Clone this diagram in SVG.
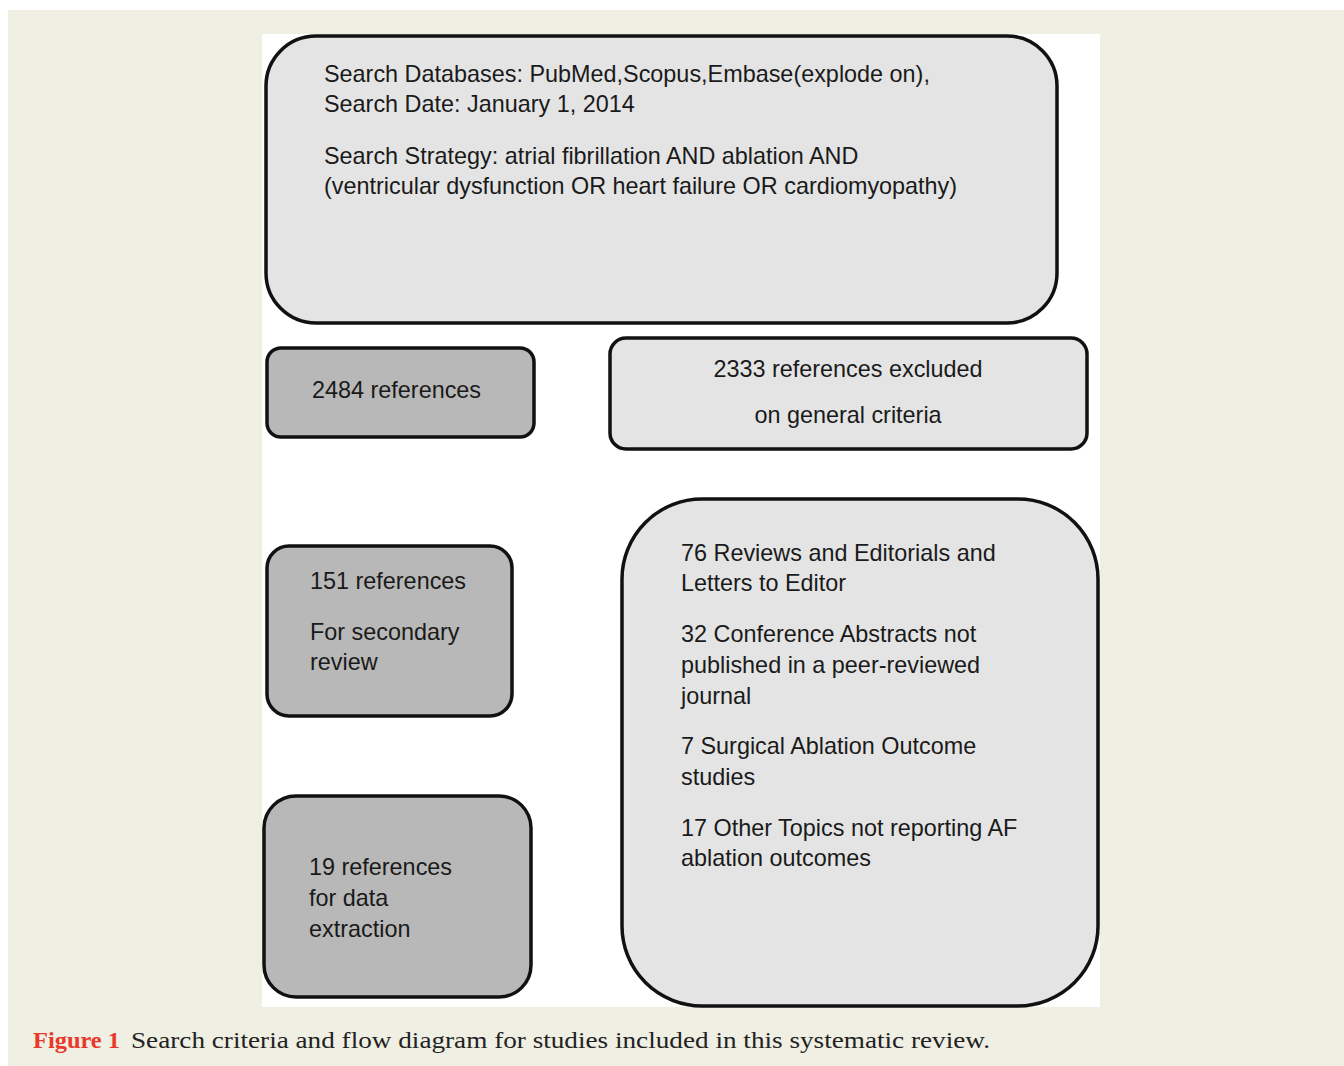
<svg xmlns="http://www.w3.org/2000/svg" width="1344" height="1066" viewBox="0 0 1344 1066">
<style>
.box{stroke:#111;stroke-width:3.5}
.light{fill:#e4e4e4}
.dark{fill:#b8b8b8}
text{font-family:"Liberation Sans",Arial,sans-serif;font-size:23.4px;fill:#1a1a1a}
.cap{font-family:"Liberation Serif","Times New Roman",serif;font-size:24px;fill:#222}
</style>
<rect x="0" y="0" width="1344" height="1066" fill="#ffffff"/>
<rect x="8" y="10" width="1336" height="1056" fill="#efefe4"/>
<rect x="262" y="34" width="838" height="973" fill="#ffffff"/>
<g id="connectors"></g>
<g id="search">
<rect class="box light" x="266" y="36" width="791" height="287" rx="50"/>
<text x="324" y="82">Search Databases: PubMed,Scopus,Embase(explode on),</text>
<text x="324" y="112">Search Date: January 1, 2014</text>
<text x="324" y="164">Search Strategy: atrial fibrillation AND ablation AND</text>
<text x="324" y="194">(ventricular dysfunction OR heart failure OR cardiomyopathy)</text>
</g>
<g id="refs2484">
<rect class="box dark" x="267" y="348" width="267" height="89" rx="14"/>
<text x="312" y="398">2484 references</text>
</g>
<g id="excluded2333">
<rect class="box light" x="610" y="338" width="477" height="111" rx="16"/>
<text x="848" y="377" text-anchor="middle">2333 references excluded</text>
<text x="848" y="423" text-anchor="middle">on general criteria</text>
</g>
<g id="refs151">
<rect class="box dark" x="267" y="546" width="245" height="170" rx="22"/>
<text x="310" y="589">151 references</text>
<text x="310" y="640">For secondary</text>
<text x="310" y="670">review</text>
</g>
<g id="refs19">
<rect class="box dark" x="264" y="796" width="267" height="201" rx="32"/>
<text x="309" y="875">19 references</text>
<text x="309" y="906">for data</text>
<text x="309" y="937">extraction</text>
</g>
<g id="excludedDetail">
<rect class="box light" x="622" y="499" width="476" height="507" rx="80"/>
<text x="681" y="561">76 Reviews and Editorials and</text>
<text x="681" y="591">Letters to Editor</text>
<text x="681" y="642">32 Conference Abstracts not</text>
<text x="681" y="673">published in a peer-reviewed</text>
<text x="681" y="704">journal</text>
<text x="681" y="754">7 Surgical Ablation Outcome</text>
<text x="681" y="785">studies</text>
<text x="681" y="836">17 Other Topics not reporting AF</text>
<text x="681" y="866">ablation outcomes</text>
</g>
<g id="caption">
<text class="cap" x="33" y="1048" fill="#e8392b" style="fill:#e8392b" font-weight="bold" textLength="87" lengthAdjust="spacingAndGlyphs">Figure 1</text>
<text class="cap" x="131" y="1048" textLength="859" lengthAdjust="spacingAndGlyphs">Search criteria and flow diagram for studies included in this systematic review.</text>
</g>
</svg>
